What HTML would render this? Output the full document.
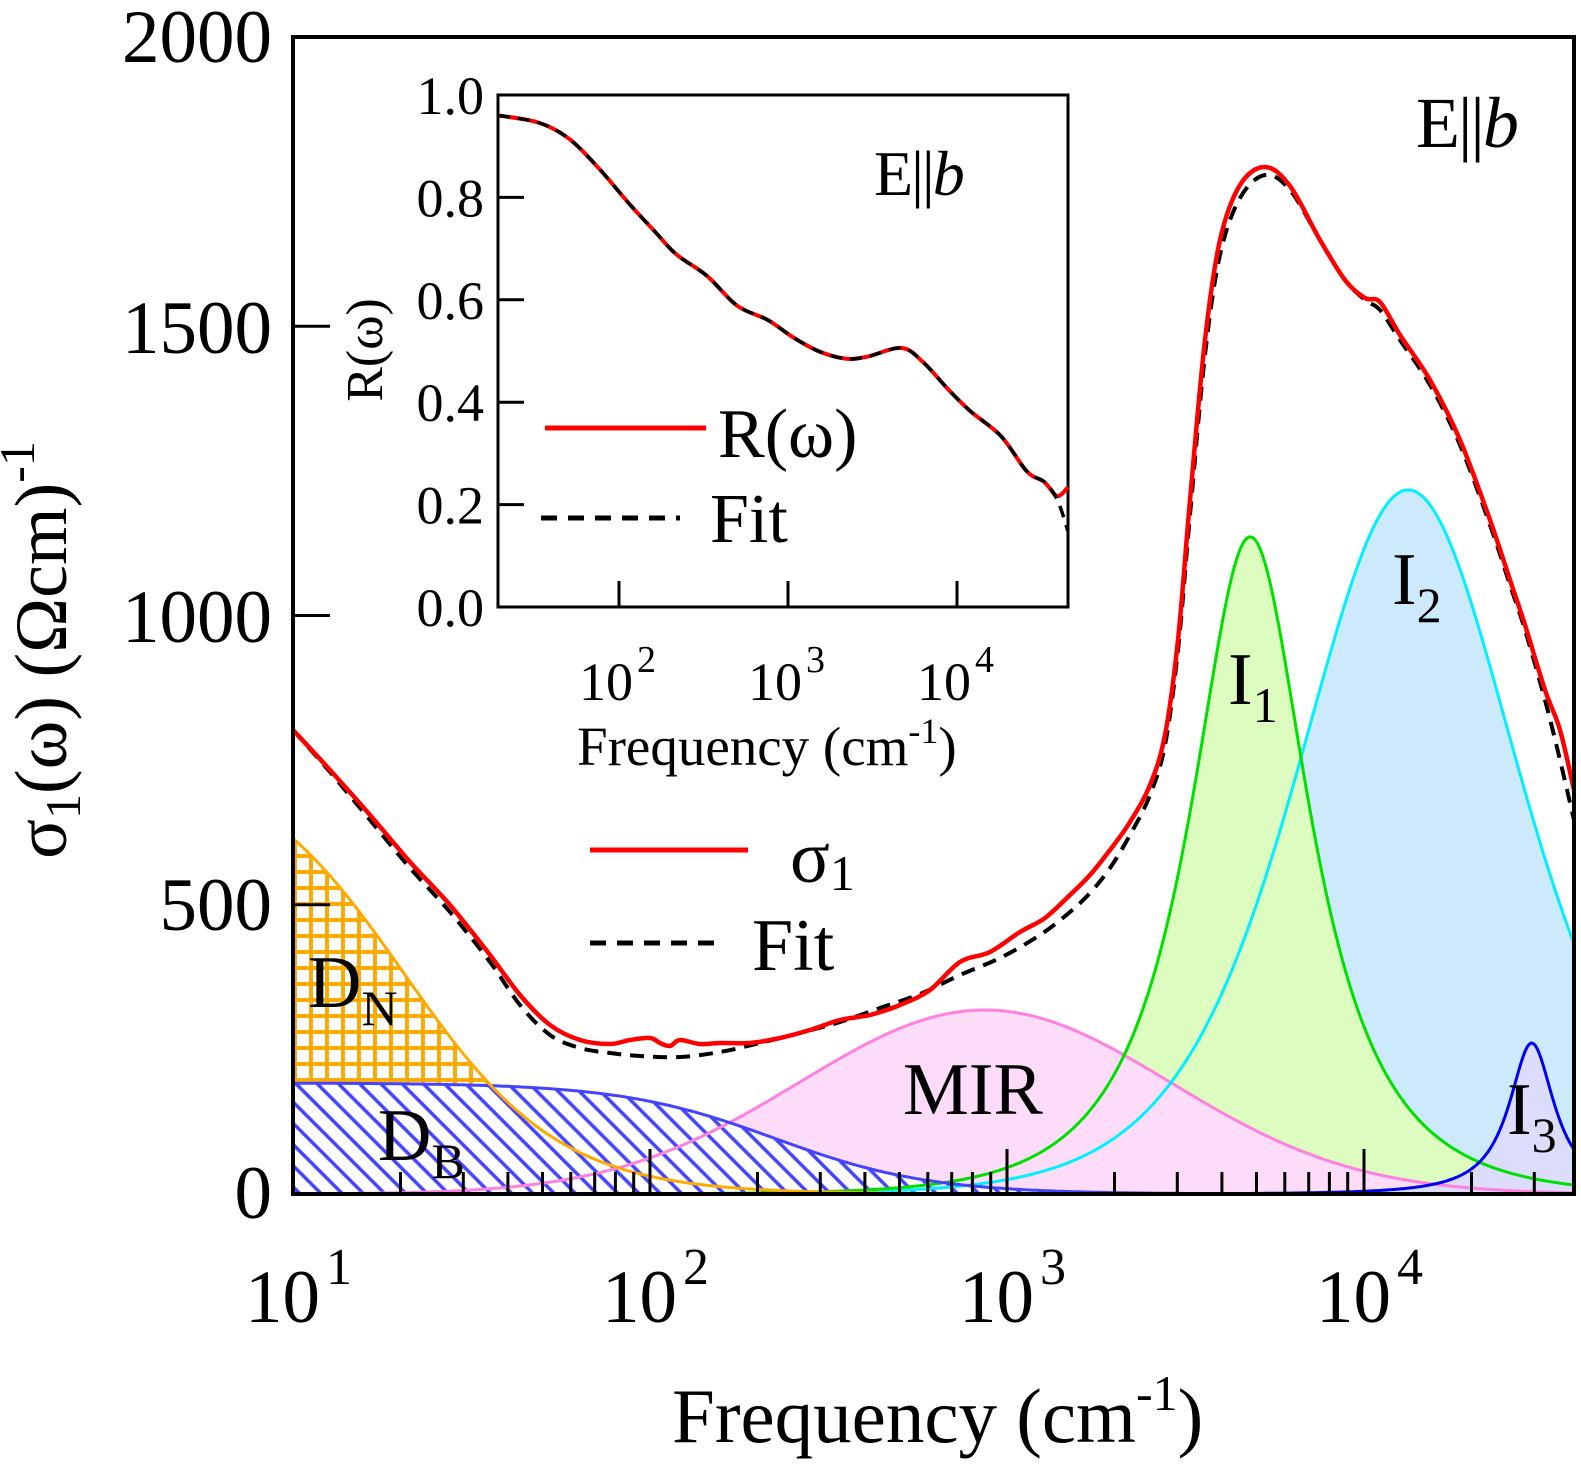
<!DOCTYPE html>
<html><head><meta charset="utf-8">
<style>
html,body{margin:0;padding:0;background:#fff;}
svg{display:block;font-family:"Liberation Serif",serif;}
</style></head>
<body>
<svg id="s" width="1581" height="1480" viewBox="0 0 1581 1480" xmlns="http://www.w3.org/2000/svg">
<defs>
<pattern id="grid" width="16" height="16" patternUnits="userSpaceOnUse" x="293" y="838">
<rect width="16" height="16" fill="#fff"/>
<path d="M2 0V16M0 2H16" stroke="#ffaa00" stroke-width="4"/>
</pattern>
<pattern id="hatch" width="15" height="15" patternUnits="userSpaceOnUse" patternTransform="rotate(45)">
<rect width="15" height="15" fill="#fff"/>
<path d="M0 2H15" stroke="#4444ff" stroke-width="3.5"/>
</pattern>
<clipPath id="pc"><rect x="293" y="37" width="1281" height="1157"/></clipPath>
</defs>
<g id="plot" clip-path="url(#pc)"></g>
<g id="axes"></g>
</svg>
<script>
const NS="http://www.w3.org/2000/svg";
const svg=document.getElementById('s'),plot=document.getElementById('plot');
function el(t,a,p){const e=document.createElementNS(NS,t);for(const k in a)e.setAttribute(k,a[k]);(p||svg).appendChild(e);return e;}
const X0=293,D=357,XR=1574,YB=1194,K=0.5785;
const Y=v=>YB-v*K;
const fOf=px=>Math.pow(10,1+(px-X0)/D);
const L=(A,w0,g)=>f=>A*g*g*f*f/((w0*w0-f*f)**2+g*g*f*f);
const DN=f=>761/(1+(f/20.5)**2);
const DB=f=>192/(1+(f/224)**2);
const MIR=f=>{const u=Math.log10(f);return 318*Math.exp(-((u-2.938)**2)/(2*0.52*0.52));};
const I1=L(1136,4800,4500),I2=L(1217,13300,25400),I3=L(261,29500,10500);
function pts(fn,a,b){const r=[];for(let x=a;x<=b;x+=2)r.push([x,Y(fn(fOf(x)))]);return r;}
function line(p){return 'M'+p.map(q=>q[0].toFixed(1)+' '+q[1].toFixed(1)).join('L');}
function area(p){return line(p)+'L'+p[p.length-1][0]+' '+YB+'L'+p[0][0]+' '+YB+'Z';}
const pI1=pts(I1,X0,XR),pI2=pts(I2,X0,XR),pI3=pts(I3,X0,XR),pM=pts(MIR,X0,XR),pDN=pts(DN,X0,XR),pDB=pts(DB,X0,XR);
el('path',{d:area(pI2),fill:'#cdeafc'},plot);
el('path',{d:area(pI1),fill:'#ddfcc0'},plot);
el('path',{d:area(pM),fill:'#fcdcf8'},plot);
el('path',{d:area(pI3.filter(q=>q[0]>1380)),fill:'#dcdcfc'},plot);
el('path',{d:area(pDN.filter(q=>q[0]<760)),fill:'url(#grid)'},plot);
el('path',{d:area(pDB.filter(q=>q[0]<1120)),fill:'url(#hatch)'},plot);
el('path',{d:line(pM),fill:'none',stroke:'#ff80e0','stroke-width':3},plot);
el('path',{d:line(pI2),fill:'none',stroke:'#00f0ff','stroke-width':3},plot);
el('path',{d:line(pI1),fill:'none',stroke:'#00e000','stroke-width':3},plot);
el('path',{d:line(pI3),fill:'none',stroke:'#0000ee','stroke-width':3},plot);
el('path',{d:line(pDB),fill:'none',stroke:'#4444ff','stroke-width':3},plot);
el('path',{d:line(pDN),fill:'none',stroke:'#ffaa00','stroke-width':3},plot);
function smooth(p){let d='M'+p[0][0]+' '+p[0][1];for(let i=0;i<p.length-1;i++){const p0=p[Math.max(0,i-1)],p1=p[i],p2=p[i+1],p3=p[Math.min(p.length-1,i+2)];
d+='C'+(p1[0]+(p2[0]-p0[0])/6).toFixed(1)+' '+(p1[1]+(p2[1]-p0[1])/6).toFixed(1)+' '+(p2[0]-(p3[0]-p1[0])/6).toFixed(1)+' '+(p2[1]-(p3[1]-p1[1])/6).toFixed(1)+' '+p2[0]+' '+p2[1];}return d;}
const red=[[293,730],[330,770],[370,815],[410,862],[450,905],[490,955],[520,995],[550,1025],[580,1040],[610,1044],[630,1040],[650,1038],[660,1043],[670,1046],[680,1040],[700,1044],[720,1043],[750,1043],[780,1038],[810,1030],[840,1020],[870,1015],[900,1005],[930,990],[960,962],[990,952],[1020,932],[1045,918],[1070,895],[1090,875],[1110,850],[1130,822],[1150,785],[1165,735],[1178,640],[1190,500],[1205,340],[1220,240],[1240,185],[1265,167],[1290,186],[1320,240],[1345,280],[1365,298],[1380,302],[1400,335],[1430,380],[1460,440],[1490,520],[1510,580],[1525,625],[1545,690],[1560,730],[1574,790]];
const blk=[[293,730],[330,772],[370,820],[410,868],[450,912],[490,962],[520,1005],[550,1035],[580,1048],[610,1053],[640,1056],[680,1057],[720,1052],[760,1043],[800,1033],[840,1022],[880,1008],[920,994],[960,975],[1000,958],[1040,935],[1070,912],[1090,893],[1110,868],[1130,835],[1150,795],[1165,745],[1178,650],[1190,515],[1205,355],[1220,255],[1240,198],[1265,175],[1290,190],[1320,240],[1345,280],[1365,300],[1380,310],[1400,340],[1430,385],[1460,445],[1490,525],[1510,585],[1525,630],[1545,700],[1560,760],[1574,820]];
el('path',{d:smooth(blk),fill:'none',stroke:'#000','stroke-width':4,'stroke-dasharray':'14 9'},plot);
el('path',{d:smooth(red),fill:'none',stroke:'#f00','stroke-width':4.5},plot);
el('rect',{x:293,y:37,width:1281,height:1157,fill:'none',stroke:'#000','stroke-width':4});
[1500,1000,500].forEach(v=>el('path',{d:'M293 '+Y(v)+'H330',stroke:'#000','stroke-width':3}));
for(let dcd=0;dcd<4;dcd++){for(let m=1;m<=9;m++){const x=X0+D*(dcd+Math.log10(m));if(x>XR)break;if(x<=X0+1)continue;
el('path',{d:'M'+x.toFixed(1)+' '+YB+'V'+(YB-(m==1?45:22)),stroke:'#000','stroke-width':3});}}
function txt(x,y,s,size,anchor,extra){const t=el('text',Object.assign({x:x,y:y,'font-size':size,'text-anchor':anchor||'start'},extra||{}));t.innerHTML=s;return t;}
txt(272,62,'2000',75,'end');txt(272,353,'1500',75,'end');txt(272,642,'1000',75,'end');txt(272,930,'500',75,'end');txt(272,1218,'0',75,'end');
[[293,'1'],[650,'2'],[1007,'3'],[1364,'4']].forEach(a=>txt(a[0]-48,1322,'10<tspan font-size="52" dy="-38" dx="6">'+a[1]+'</tspan>',75));
txt(672,1442,'Frequency (cm<tspan font-size="50" dy="-32">-1</tspan><tspan dy="32">)</tspan>',77);
txt(0,0,'σ<tspan font-size="50" dy="14">1</tspan><tspan dy="-14">(ω) (Ωcm)</tspan><tspan font-size="50" dy="-32">-1</tspan>',74,'middle',{transform:'translate(66 650) rotate(-90)'});
el('path',{d:'M590 850H748',stroke:'#f00','stroke-width':5});
txt(790,882,'σ<tspan font-size="50" dy="8">1</tspan>',74);
el('path',{d:'M590 943H722',stroke:'#000','stroke-width':5,'stroke-dasharray':'16 11'});
txt(752,970,'Fit',74);
txt(308,1007,'D<tspan font-size="50" dy="18">N</tspan>',74);
txt(378,1160,'D<tspan font-size="50" dy="18">B</tspan>',74);
txt(903,1114,'MIR',74);
txt(1228,704,'I<tspan font-size="50" dy="18">1</tspan>',74);
txt(1392,604,'I<tspan font-size="50" dy="18">2</tspan>',74);
txt(1507,1134,'I<tspan font-size="50" dy="18">3</tspan>',74);
txt(1416,147,'E||<tspan font-style="italic">b</tspan>',72,'start',{'letter-spacing':'-2'});
const IX0=498,IX1=1068,IY0=95,IY1=607;
el('rect',{x:IX0,y:IY0,width:IX1-IX0,height:IY1-IY0,fill:'#fff',stroke:'#000','stroke-width':3});
[0.2,0.4,0.6,0.8].forEach(v=>{const y=IY1-v*512;el('path',{d:'M'+IX0+' '+y+'H'+(IX0+26),stroke:'#000','stroke-width':3});});
[['1.0',1],['0.8',.8],['0.6',.6],['0.4',.4],['0.2',.2],['0.0',0]].forEach(a=>txt(484,IY1-a[1]*512+19,a[0],54,'end'));
[[619,'2'],[788,'3'],[957,'4']].forEach(a=>{el('path',{d:'M'+a[0]+' '+IY1+'V'+(IY1-26),stroke:'#000','stroke-width':3});
txt(a[0]-40,700,'10<tspan font-size="38" dy="-28" dx="4">'+a[1]+'</tspan>',54);});
txt(577,765,'Frequency (cm<tspan font-size="36" dy="-22">-1</tspan><tspan dy="22">)</tspan>',55);
txt(0,0,'R(ω)',52,'middle',{transform:'translate(382 350) rotate(-90)'});
const cz=p=>[+(IX0+(p[0]-237)*0.4325).toFixed(1),+(IY0+(p[1]-42)*0.3524).toFixed(1)];
const rz=[[237,100],[330,120],[400,165],[470,250],[540,350],[600,430],[650,495],[720,555],[790,640],[860,680],[920,730],[980,770],[1040,790],[1090,785],[1170,760],[1220,800],[1280,880],[1330,940],[1400,1010],[1460,1110],[1500,1140],[1530,1180],[1555,1155]].map(cz);
const bz=[[237,100],[330,120],[400,165],[470,250],[540,350],[600,430],[650,495],[720,555],[790,640],[860,680],[920,730],[980,770],[1040,790],[1090,785],[1170,760],[1220,800],[1280,880],[1330,940],[1400,1010],[1460,1110],[1500,1140],[1530,1190],[1555,1280]].map(cz);
el('path',{d:smooth(rz),fill:'none',stroke:'#f00','stroke-width':4});
el('path',{d:smooth(bz),fill:'none',stroke:'#000','stroke-width':3.5,'stroke-dasharray':'12 8'});
el('path',{d:'M545 428H706',stroke:'#f00','stroke-width':5});
txt(718,457,'R(ω)',70);
el('path',{d:'M541 518H680',stroke:'#000','stroke-width':5,'stroke-dasharray':'16 11'});
txt(710,542,'Fit',70);
txt(874,195,'E||<tspan font-style="italic">b</tspan>',64,'start',{'letter-spacing':'-2'});
</script>
</body></html>
